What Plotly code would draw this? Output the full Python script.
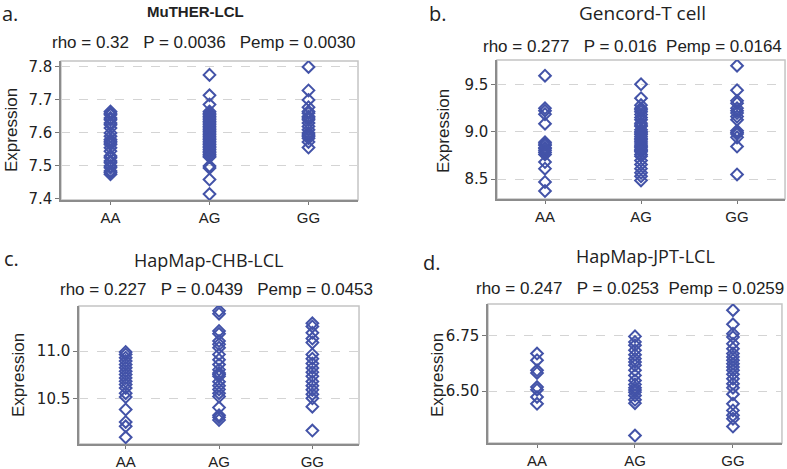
import plotly.graph_objects as go

GENOTYPES = ['AA', 'AG', 'GG']
MARKER_COLOR = '#4353A8'
SANS = 'Arial, Liberation Sans, sans-serif'

# Panel a: MuTHER-LCL
muther_aa = [7.665, 7.66, 7.655, 7.645, 7.64, 7.63, 7.625, 7.615, 7.60, 7.59, 7.58, 7.575,
             7.57, 7.565, 7.555, 7.545, 7.53, 7.525, 7.515, 7.51, 7.50, 7.495, 7.485, 7.48, 7.475]
muther_ag = [7.776, 7.714, 7.686, 7.665, 7.66, 7.655, 7.65, 7.645, 7.64, 7.635, 7.63, 7.625,
             7.62, 7.615, 7.61, 7.605, 7.60, 7.595, 7.59, 7.585, 7.58, 7.575, 7.57, 7.565,
             7.56, 7.555, 7.55, 7.545, 7.54, 7.535, 7.53, 7.527, 7.50, 7.494, 7.459, 7.415]
muther_gg = [7.80, 7.729, 7.70, 7.678, 7.665, 7.66, 7.65, 7.645, 7.64, 7.63, 7.62, 7.61,
             7.60, 7.594, 7.59, 7.584, 7.573, 7.556]

# Panel b: Gencord-T cell
gencord_aa = [9.59, 9.248, 9.22, 9.185, 9.084, 8.888, 8.87, 8.857, 8.83, 8.82, 8.80, 8.78,
              8.76, 8.68, 8.61, 8.47, 8.374]
gencord_ag = [9.50, 9.353, 9.28, 9.248, 9.23, 9.21, 9.18, 9.15, 9.126, 9.09, 9.07, 9.056,
              9.02, 9.00, 8.986, 8.97, 8.95, 8.93, 8.916, 8.90, 8.88, 8.86, 8.846, 8.83,
              8.81, 8.80, 8.787, 8.76, 8.74, 8.696, 8.654, 8.61, 8.566, 8.53, 8.486]
gencord_gg = [9.696, 9.437, 9.325, 9.30, 9.248, 9.22, 9.196, 9.16, 9.126, 9.01, 8.99,
              8.975, 8.94, 8.843, 8.549]

# Panel c: HapMap-CHB-LCL
chb_aa = [10.99, 10.965, 10.93, 10.895, 10.86, 10.825, 10.79, 10.755, 10.72, 10.685,
          10.65, 10.615, 10.56, 10.52, 10.39, 10.26, 10.215, 10.10]
chb_ag = [11.42, 11.39, 11.21, 11.18, 11.105, 11.07, 11.035, 10.965, 10.91, 10.86, 10.806,
          10.77, 10.755, 10.736, 10.68, 10.637, 10.60, 10.56, 10.525, 10.41, 10.33, 10.31, 10.28]
chb_gg = [11.29, 11.257, 11.19, 11.13, 11.088, 10.965, 10.92, 10.87, 10.824, 10.78, 10.736,
          10.683, 10.637, 10.595, 10.55, 10.507, 10.42, 10.17]

# Panel d: HapMap-JPT-LCL
jpt_aa = [6.67, 6.64, 6.594, 6.582, 6.518, 6.506, 6.473, 6.442]
jpt_ag = [6.748, 6.723, 6.708, 6.685, 6.665, 6.647, 6.632, 6.617, 6.594, 6.571, 6.548,
          6.53, 6.515, 6.505, 6.495, 6.48, 6.46, 6.445, 6.298]
jpt_gg = [6.867, 6.803, 6.76, 6.745, 6.715, 6.692, 6.67, 6.655, 6.64, 6.624, 6.609, 6.594,
          6.576, 6.556, 6.533, 6.515, 6.485, 6.442, 6.412, 6.39, 6.374, 6.339]

panels = [
    dict(aa=muther_aa, ag=muther_ag, gg=muther_gg, yrange=[7.397, 7.818], dtick=0.1, fmt='.1f',
         x=[0.0775, 0.4549], y=[0.5736, 0.8699]),
    dict(aa=gencord_aa, ag=gencord_ag, gg=gencord_gg, yrange=[8.29, 9.756], dtick=0.5, fmt='.1f',
         x=[0.6315, 0.9975], y=[0.5757, 0.8721]),
    dict(aa=chb_aa, ag=chb_ag, gg=chb_gg, yrange=[10.03, 11.47], dtick=0.5, fmt='.1f',
         x=[0.1004, 0.4562], y=[0.0533, 0.3475]),
    dict(aa=jpt_aa, ag=jpt_ag, gg=jpt_gg, yrange=[6.264, 6.895], dtick=0.25, fmt='.2f',
         x=[0.6201, 0.9936], y=[0.0554, 0.3518]),
]

fig = go.Figure()
W, H = 787, 469

for i, p in enumerate(panels):
    n = '' if i == 0 else str(i + 1)
    xs, ys = [], []
    for g, vals in zip(GENOTYPES, [p['aa'], p['ag'], p['gg']]):
        xs += [g] * len(vals)
        ys += vals
    fig.add_trace(go.Scatter(
        x=xs, y=ys, mode='markers', xaxis='x' + n, yaxis='y' + n, showlegend=False,
        marker=dict(symbol='diamond-open', size=9, color=MARKER_COLOR, line=dict(width=2, color=MARKER_COLOR))
    ))
    fig.layout['xaxis' + n] = dict(
        domain=p['x'], anchor='y' + n, type='category', categoryorder='array', categoryarray=GENOTYPES,
        range=[-0.5, 2.5], showline=True, linecolor='#8c8c8c', linewidth=1.5, showgrid=False,
        ticks='outside', ticklen=3, tickcolor='#777', tickfont=dict(family=SANS, size=15, color='#222'),
        zeroline=False
    )
    fig.layout['yaxis' + n] = dict(
        domain=p['y'], anchor='x' + n, range=p['yrange'], dtick=p['dtick'], tickformat=p['fmt'],
        showline=True, linecolor='#8c8c8c', linewidth=1.5, showgrid=True, gridcolor='#d4d4d4',
        griddash='dash', gridwidth=1, ticks='outside', ticklen=4, tickcolor='#777',
        tickfont=dict(family='DejaVu Sans', size=15, color='#222'), zeroline=False
    )
    fig.add_shape(type='rect', xref='x' + n + ' domain', yref='y' + n + ' domain',
                  x0=0, x1=1, y0=0, y1=1, line=dict(color='#c4c4c4', width=1.5), layer='below')


def px(x, y):
    return x / W, 1 - y / H


def note(text, x, y, fam, size, angle=0):
    xx, yy = px(x, y)
    fig.add_annotation(x=xx, y=yy, xref='paper', yref='paper', text=text, showarrow=False,
                       xanchor='center', yanchor='middle', textangle=angle,
                       font=dict(family=fam, size=size, color='#222'))


S3 = '&nbsp;' * 3
S2 = '&nbsp;' * 2

# panel letters
for text, x, y in [('a.', 10, 13), ('b.', 438, 14), ('c.', 11, 258), ('d.', 432, 262)]:
    note(text, x, y, 'Open Sans', 20)

# panel titles
note('<b>MuTHER-LCL</b>', 195, 12, SANS, 15)
note('Gencord-T cell', 642, 13, 'Open Sans', 19)
note('HapMap-CHB-LCL', 208, 260, 'Open Sans', 18)
note('HapMap-JPT-LCL', 645, 256, 'Open Sans', 18)

# statistics lines
note('rho = 0.32' + S3 + 'P = 0.0036' + S3 + 'Pemp = 0.0030', 204, 43, SANS, 17)
note('rho = 0.277' + S3 + 'P = 0.016' + S2 + 'Pemp = 0.0164', 632, 47, SANS, 17)
note('rho = 0.227' + S3 + 'P = 0.0439' + S3 + 'Pemp = 0.0453', 216, 289, SANS, 17)
note('rho = 0.247' + S3 + 'P = 0.0253' + S2 + 'Pemp = 0.0259', 630, 288, SANS, 17)

# y-axis titles
for x, y in [(11, 130), (443, 131), (18, 375), (437, 375)]:
    note('Expression', x, y, SANS, 17, angle=-90)

fig.update_layout(
    width=W, height=H, margin=dict(l=0, r=0, t=0, b=0, autoexpand=False),
    paper_bgcolor='white', plot_bgcolor='white'
)

fig.write_html("out.html", config={'displayModeBar': False},
               post_script="document.body.style.margin='0';")
